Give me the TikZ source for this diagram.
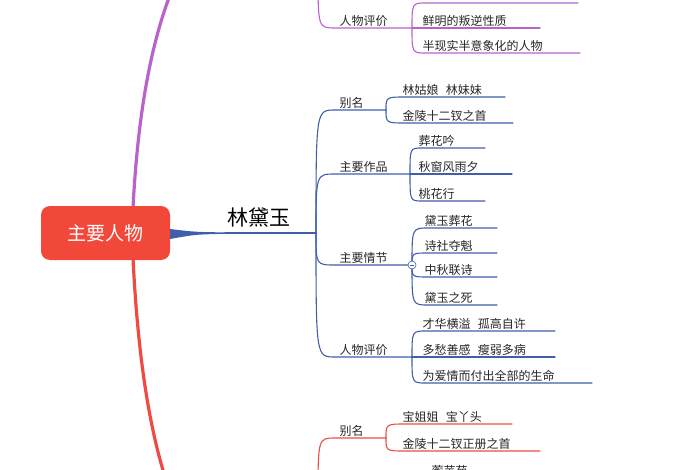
\documentclass[tikz,border=0pt]{standalone}
\usepackage{fontspec}
\usetikzlibrary{calc}
\setmainfont{Noto Sans CJK SC}
\definecolor{cblue}{HTML}{3F5FAA}
\definecolor{cred}{HTML}{EE4B45}
\definecolor{cpur}{HTML}{BA62CC}
\definecolor{rootc}{HTML}{F2483A}
\tikzset{lf/.style={anchor=south west,inner sep=1.5pt,font=\fontsize{12}{14}\selectfont,text=black!85},
 ct/.style={anchor=south west,inner sep=1.5pt,font=\fontsize{12}{14}\selectfont,text=black!85},
 br/.style={line width=1.1pt,line cap=round}}
% name, hub, x0, y, x1, text, color
\newcommand{\lfx}[7]{%
 \node[lf] (#1) at (#3+3,#4) {#6};
 \draw[br,#7] (#2) .. controls (#2 |- #3,#4) .. (#3+8,#4) -- (#5,#4);}
% category: name, hub, y, x1, text, color, hubname
\newcommand{\cat}[7]{%
 \node[ct] (#1) at (338,#3) {#5};
 \draw[br,#6] (#2) .. controls (#2 |- 0,#3) and (#2 |- 0,#3) .. (335,#3) -- (#4,#3);
 \coordinate (#7) at (#4,#3);}
\begin{document}
\begin{tikzpicture}[x=1pt,y=-1pt]
\useasboundingbox (0,0) rectangle (700,470);
\begin{scope}
\clip (0,0) rectangle (700,470);
% big curves
\draw[cpur,line width=3.2pt] (133,208) .. controls (138,110) and (152,40) .. (172,-10);
\draw[cred,line width=3.2pt] (133,258) .. controls (138,360) and (150,430) .. (166,480);
% root
\node[fill=rootc,rounded corners=9pt,minimum width=129pt,minimum height=54pt,text=white,font=\fontsize{19}{22}\selectfont] (root) at (105.5,233) {主要人物};
% blue main
\coordinate (bh) at (316,233);
\fill[cblue] (170,229) .. controls (195,232) .. (226,232.4) -- (226,233.8) .. controls (195,234.5) .. (170,239) -- cycle;
\draw[br,cblue] (225,233) -- (bh);
\node[font=\fontsize{21}{24}\selectfont,anchor=south,inner sep=1pt] (lin) at (259,228) {林黛玉};
% blue categories
\cat{b1}{bh}{110}{386}{别名}{cblue}{h1}
\cat{b2}{bh}{174}{410}{主要作品}{cblue}{h2}
\cat{b3}{bh}{265}{412}{主要情节}{cblue}{h3}
\cat{b4}{bh}{357}{412}{人物评价}{cblue}{h4}
% 别名
\lfx{l11}{h1}{398}{97}{505}{林姑娘\hspace{0.6em}林妹妹}{cblue}
\lfx{l12}{h1}{398}{123}{513}{金陵十二钗之首}{cblue}
% 作品
\lfx{l21}{h2}{414}{148}{485}{葬花吟}{cblue}
\lfx{l22}{h2}{414}{174}{512}{秋窗风雨夕}{cblue}
\lfx{l23}{h2}{414}{201}{485}{桃花行}{cblue}
% 情节
\lfx{l31}{h3}{420}{228}{497}{黛玉葬花}{cblue}
\lfx{l32}{h3}{420}{253}{497}{诗社夺魁}{cblue}
\lfx{l33}{h3}{420}{277}{497}{中秋联诗}{cblue}
\lfx{l34}{h3}{420}{305}{497}{黛玉之死}{cblue}
\draw[cblue,fill=white,line width=0.6pt] (h3) circle (4);
\draw[cblue,line width=0.6pt] ($(h3)+(-2,0)$) -- ($(h3)+(2,0)$);
% 评价
\lfx{l41}{h4}{418}{331}{555}{才华横溢\hspace{0.6em}孤高自许}{cblue}
\lfx{l42}{h4}{418}{357}{555}{多愁善感\hspace{0.6em}瘦弱多病}{cblue}
\lfx{l43}{h4}{418}{383}{592}{为爱情而付出全部的生命}{cblue}
% purple top
\coordinate (ph) at (318,-30);
\cat{p1}{ph}{28}{412}{人物评价}{cpur}{hp}
\lfx{p10}{hp}{418}{3}{578}{}{cpur}
\lfx{p11}{hp}{418}{28}{540}{鲜明的叛逆性质}{cpur}
\lfx{p12}{hp}{418}{53}{580}{半现实半意象化的人物}{cpur}
% red bottom
\coordinate (rh) at (318,500);
\cat{r1}{rh}{438}{386}{别名}{cred}{hr}
\lfx{r11}{hr}{398}{424}{512}{宝姐姐\hspace{0.6em}宝丫头}{cred}
\lfx{r12}{hr}{398}{451}{540}{金陵十二钗正册之首}{cred}
\node[lf] (r20) at (430,478) {蘅芜苑};
\end{scope}
\end{tikzpicture}
\end{document}
